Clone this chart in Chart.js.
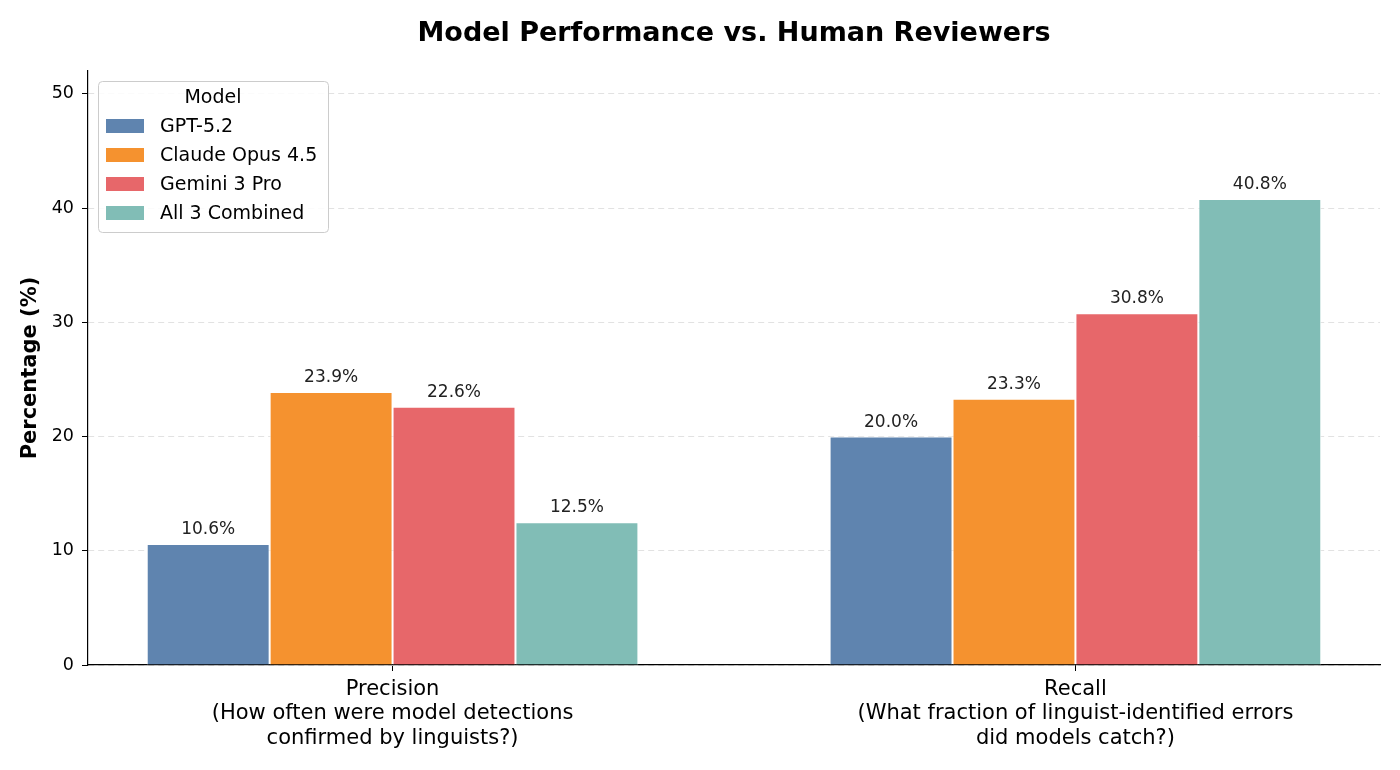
<!DOCTYPE html>
<html>
<head>
<meta charset="utf-8">
<script src="https://cdn.jsdelivr.net/npm/chart.js@4.4.1/dist/chart.umd.min.js"></script>
<style>
  html, body { margin: 0; padding: 0; background: #fff; }
  #wrap { width: 1400px; height: 770px; }
</style>
</head>
<body>
<div id="wrap"><canvas id="chart"></canvas></div>
<script>
// Data
const metricLabels = [
  ["Precision", "(How often were model detections", "confirmed by linguists?)"],
  ["Recall", "(What fraction of linguist-identified errors", "did models catch?)"]
];
const modelNames = ["GPT-5.2", "Claude Opus 4.5", "Gemini 3 Pro", "All 3 Combined"];
const gptValues = [10.6, 20.0];
const claudeValues = [23.9, 23.3];
const geminiValues = [22.6, 30.8];
const combinedValues = [12.5, 40.8];
const yTicks = [0, 10, 20, 30, 40, 50];

const modelColors = ["#5f84af", "#f5922f", "#e7676a", "#81bdb6"];
const seriesValues = [gptValues, claudeValues, geminiValues, combinedValues];

Chart.defaults.font.family = "'DejaVu Sans', sans-serif";
Chart.defaults.color = "#000";

// value labels above each bar
const barLabels = {
  id: "barLabels",
  afterDatasetsDraw(chart) {
    const ctx = chart.ctx;
    ctx.save();
    ctx.font = "17px 'DejaVu Sans'";
    ctx.fillStyle = "#222";
    ctx.textAlign = "center";
    ctx.textBaseline = "alphabetic";
    chart.data.datasets.forEach((ds, i) => {
      chart.getDatasetMeta(i).data.forEach((bar, j) => {
        ctx.fillText(ds.data[j].y.toFixed(1) + "%", bar.x, bar.y - 10);
      });
    });
    ctx.restore();
  }
};

// matplotlib-like legend box inside the plot
const legendBox = {
  id: "legendBox",
  afterDraw(chart) {
    const ctx = chart.ctx;
    const left = chart.chartArea.left + 10;
    const top = chart.chartArea.top + 10;
    const w = 230, h = 151;
    ctx.save();
    ctx.beginPath();
    ctx.roundRect(left + 0.5, top + 0.5, w, h, 4);
    ctx.fillStyle = "rgba(255,255,255,0.85)";
    ctx.fill();
    ctx.strokeStyle = "#cccccc";
    ctx.lineWidth = 1;
    ctx.stroke();

    ctx.fillStyle = "#000";
    ctx.font = "19px 'DejaVu Sans'";
    ctx.textAlign = "center";
    ctx.textBaseline = "middle";
    ctx.fillText("Model", left + w / 2, top + 17);

    ctx.textAlign = "left";
    chart.data.datasets.forEach((ds, i) => {
      const rowY = top + 45 + i * 29;
      ctx.fillStyle = ds.backgroundColor;
      ctx.fillRect(left + 8, rowY - 7, 38, 14);
      ctx.fillStyle = "#000";
      ctx.fillText(ds.label, left + 62, rowY + 1);
    });
    ctx.restore();
  }
};

const datasets = modelNames.map((name, i) => ({
  label: name,
  data: seriesValues[i].map((v, j) => ({ x: j, y: v })),
  backgroundColor: modelColors[i],
  borderColor: "#ffffff",
  borderWidth: 1,
  categoryPercentage: 0.72,
  barPercentage: 1.0
}));

new Chart(document.getElementById("chart"), {
  type: "bar",
  data: { datasets },
  options: {
    responsive: true,
    maintainAspectRatio: false,
    animation: false,
    layout: { padding: { left: 0, right: 20, top: 0, bottom: 0 } },
    plugins: {
      legend: { display: false },
      tooltip: { enabled: false },
      title: {
        display: true,
        fullSize: false,
        text: "Model Performance vs. Human Reviewers",
        font: { size: 27, weight: "bold" },
        color: "#000",
        padding: { top: 18, bottom: 20.6 }
      }
    },
    scales: {
      x: {
        type: "linear",
        offset: false,
        min: -0.446,
        max: 1.446,
        afterBuildTicks(scale) {
          scale.ticks = metricLabels.map((_, i) => ({ value: i }));
        },
        afterFit(scale) { scale.height = 105; },
        ticks: {
          font: { size: 21, lineHeight: 1.167 },
          color: "#000",
          padding: 6,
          maxRotation: 0,
          autoSkip: false,
          callback: (v) => metricLabels[v]
        },
        grid: {
          offset: false,
          drawOnChartArea: false,
          drawTicks: true,
          tickLength: 6,
          tickColor: "#000"
        },
        border: { display: true, color: "#000", width: 1.2 }
      },
      y: {
        min: 0,
        max: 52,
        afterBuildTicks(scale) {
          scale.ticks = yTicks.map(v => ({ value: v }));
        },
        afterFit(scale) { scale.width = 88; },
        ticks: { font: { size: 17.5 }, color: "#000", padding: 8 },
        grid: {
          color: "#e2e2e2",
          lineWidth: 1,
          tickColor: "#000",
          tickBorderDash: [],
          tickLength: 6
        },
        border: { display: true, color: "#000", width: 1.2, dash: [6, 4] },
        title: {
          display: true,
          text: "Percentage (%)",
          font: { size: 21, weight: "bold" },
          color: "#000",
          padding: { top: 18, bottom: 0 }
        }
      }
    }
  },
  plugins: [barLabels, legendBox]
});
</script>
</body>
</html>
